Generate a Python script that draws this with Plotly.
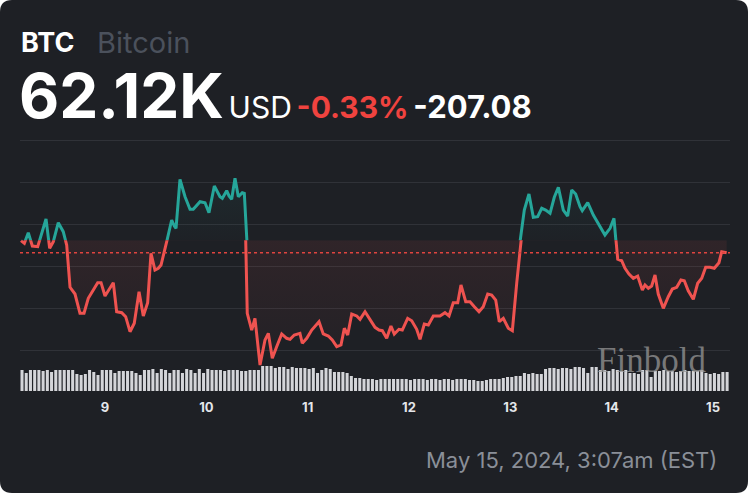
import plotly.graph_objects as go

# ---------------- data ----------------
# x = day of May 2024 (fractional), price in thousands of USD
price_day = [8.171, 8.204, 8.243, 8.283, 8.336, 8.368, 8.418, 8.454, 8.490, 8.539,
             8.588, 8.622, 8.655, 8.704, 8.753, 8.793, 8.835, 8.928, 8.961, 9.000,
             9.082, 9.115, 9.165, 9.204, 9.247, 9.289, 9.336, 9.378, 9.421, 9.454,
             9.493, 9.526, 9.553, 9.609, 9.658, 9.684, 9.701, 9.740, 9.790, 9.839,
             9.871, 9.938, 9.987, 10.026, 10.079, 10.135, 10.158, 10.201, 10.224, 10.250,
             10.283, 10.316, 10.355, 10.375, 10.389, 10.404, 10.448, 10.480, 10.530, 10.579,
             10.612, 10.651, 10.694, 10.744, 10.793, 10.826, 10.868, 10.924, 10.947, 10.991,
             11.040, 11.112, 11.154, 11.204, 11.243, 11.287, 11.329, 11.362, 11.395, 11.435,
             11.484, 11.517, 11.566, 11.615, 11.665, 11.704, 11.737, 11.780, 11.822, 11.855,
             11.901, 11.934, 11.987, 12.027, 12.076, 12.109, 12.151, 12.191, 12.240, 12.306,
             12.355, 12.395, 12.437, 12.481, 12.513, 12.560, 12.602, 12.645, 12.691, 12.733,
             12.777, 12.816, 12.856, 12.891, 12.931, 12.980, 13.020, 13.063, 13.096, 13.138,
             13.184, 13.227, 13.270, 13.310, 13.349, 13.392, 13.434, 13.474, 13.523, 13.566,
             13.606, 13.645, 13.688, 13.710, 13.764, 13.819, 13.885, 13.934, 13.984, 14.023,
             14.043, 14.060, 14.099, 14.132, 14.171, 14.214, 14.257, 14.303, 14.329, 14.362,
             14.395, 14.428, 14.460, 14.510, 14.559, 14.599, 14.642, 14.684, 14.717, 14.756,
             14.806, 14.849, 14.889, 14.928, 14.971, 15.013, 15.059, 15.086, 15.135]

price_k = [62.322, 62.278, 62.455, 62.233, 62.222, 62.388, 62.683, 62.195, 62.305, 62.622,
           62.472, 62.250, 61.545, 61.433, 61.112, 61.112, 61.362, 61.622, 61.622, 61.400,
           61.622, 61.138, 61.122, 61.055, 60.805, 60.945, 61.472, 61.067, 61.288, 62.112,
           61.833, 61.862, 61.917, 62.305, 62.667, 62.567, 62.528, 63.345, 63.055, 62.845,
           62.845, 62.972, 62.955, 62.788, 63.233, 63.055, 63.028, 63.155, 63.067, 63.012,
           63.362, 63.055, 63.122, 63.112, 62.305, 61.112, 60.833, 61.028, 60.250, 60.667,
           60.778, 60.362, 60.555, 60.767, 60.695, 60.678, 60.750, 60.778, 60.612, 60.695,
           60.833, 60.972, 60.767, 60.733, 60.667, 60.555, 60.583, 60.862, 60.750, 61.100,
           61.067, 61.012, 61.138, 61.000, 60.878, 60.833, 60.822, 60.695, 60.900, 60.767,
           60.845, 60.833, 61.028, 60.988, 60.845, 60.678, 60.933, 60.917, 61.067, 61.067,
           61.122, 61.067, 61.288, 61.288, 61.583, 61.305, 61.305, 61.222, 61.138, 61.222,
           61.433, 61.417, 61.333, 60.972, 61.028, 60.862, 60.822, 61.612, 62.305, 62.833,
           63.100, 62.712, 62.722, 62.862, 62.833, 62.778, 63.045, 63.212, 62.833, 62.733,
           63.167, 63.100, 62.888, 62.822, 62.955, 62.750, 62.555, 62.417, 62.528, 62.695,
           62.305, 62.012, 61.988, 61.862, 61.767, 61.695, 61.733, 61.500, 61.583, 61.528,
           61.567, 61.750, 61.433, 61.195, 61.388, 61.517, 61.545, 61.667, 61.655, 61.488,
           61.345, 61.612, 61.695, 61.878, 61.878, 61.862, 61.955, 62.138, 62.120]

# hourly volume (relative units), first bar at May 8 ~04:20
volume = [21, 18, 21, 21, 21, 20, 21, 19, 21, 21, 21, 21, 21, 17, 16, 17, 21, 19, 16, 21,
          21, 21, 18, 20, 20, 20, 20, 18, 16, 21, 21, 22, 18, 22, 21, 18, 21, 21, 18, 22, 21, 18, 22, 18,
          22, 21, 21, 21, 20, 21, 21, 21, 20, 20, 21, 21, 21,
          25, 25, 25, 23, 24, 24, 22, 24, 23, 23,
          23, 22, 23, 18, 21, 23, 22, 19, 19, 19, 18, 15, 13, 13,
          12, 12, 12, 11, 12, 12, 12, 12, 12, 12, 12, 11, 12, 12, 12, 11, 12, 12, 11, 12, 12, 11, 12, 12, 12, 11,
          11, 10, 10, 11, 12, 12, 12, 13, 14, 14, 15, 15, 18, 17, 18, 17, 17,
          22, 23, 23, 22, 23, 23, 22, 24, 24, 23, 18, 24, 24, 21, 21, 20, 22, 21, 20, 21,
          18, 18, 17, 21, 21, 14, 20, 20, 21, 20, 20, 19, 20, 21, 20, 20, 20, 21, 18, 17, 18, 17, 19, 19]
volume_start_day = 8.181
volume_day = [volume_start_day + h / 24 for h in range(len(volume))]

x_ticks = [9, 10, 11, 12, 13, 14, 15]
x_tick_labels = ["9", "10", "11", "12", "13", "14", "15"]
grid_vals = [60.5, 61.2, 61.9, 62.6, 63.3, 64.0]

prev_close_k = 62.33
last_price_k = 62.12
change_pct = "-0.33%"
change_abs = "-207.08"

# ---------------- layout helpers ----------------
W, H = 750, 496
def px(x):
    return x / W
def py(y):
    return 1 - y / H

BG = "#1e2025"
GREEN = "#26a69a"
RED = "#ef5350"
FONT = "Inter"

# main price axis geometry (pixels)
TOP_PX, BOT_PX = 130, 392
Y_LO, Y_HI = 59.8, 64.1667
thr_px = TOP_PX + (Y_HI - prev_close_k) / (Y_HI - Y_LO) * (BOT_PX - TOP_PX)
X_RANGE = [8.1612, 15.168]

fig = go.Figure()

# invisible trace to hold main subplot (gridlines)
fig.add_trace(go.Scatter(x=price_day, y=price_k, mode="none", hoverinfo="skip",
                         showlegend=False, xaxis="x", yaxis="y"))

# volume bars
fig.add_trace(go.Bar(x=volume_day, y=volume, width=0.72 / 24, marker_color="#d4d5d9",
                     marker_line_width=0, showlegend=False, xaxis="x", yaxis="y2"))

# green part (above previous close)
base = [prev_close_k] * len(price_day)
fig.add_trace(go.Scatter(x=price_day, y=base, mode="lines", line=dict(width=0),
                         showlegend=False, hoverinfo="skip", xaxis="x", yaxis="y3"))
fig.add_trace(go.Scatter(x=price_day, y=price_k, mode="lines",
                         line=dict(color=GREEN, width=3), fill="tonexty",
                         fillgradient=dict(type="vertical",
                                           colorscale=[[0, "rgba(38,166,154,0.01)"],
                                                       [1, "rgba(38,166,154,0.08)"]],
                                           start=prev_close_k, stop=63.4),
                         showlegend=False, xaxis="x", yaxis="y3"))

# red part (below previous close)
fig.add_trace(go.Scatter(x=price_day, y=base, mode="lines", line=dict(width=0),
                         showlegend=False, hoverinfo="skip", xaxis="x", yaxis="y4"))
fig.add_trace(go.Scatter(x=price_day, y=price_k, mode="lines",
                         line=dict(color=RED, width=3), fill="tonexty",
                         fillgradient=dict(type="vertical",
                                           colorscale=[[0, "rgba(239,83,80,0.02)"],
                                                       [1, "rgba(239,83,80,0.085)"]],
                                           start=60.25, stop=prev_close_k),
                         showlegend=False, xaxis="x", yaxis="y4"))

hidden = dict(visible=False, showgrid=False, zeroline=False, fixedrange=True)

fig.update_layout(
    width=W, height=H,
    margin=dict(l=0, r=0, t=0, b=0),
    paper_bgcolor="white",
    plot_bgcolor="rgba(0,0,0,0)",
    showlegend=False,
    xaxis=dict(domain=[px(20), px(730)], range=X_RANGE, anchor="y",
               tickvals=x_ticks, ticktext=x_tick_labels, showgrid=False,
               zeroline=False, showline=False, ticks="outside", ticklen=3,
               tickcolor="rgba(0,0,0,0)",
               tickfont=dict(family=FONT, size=13, color="#e4e6ea", weight="bold")),
    yaxis=dict(domain=[py(BOT_PX), py(TOP_PX)], range=[Y_LO, Y_HI],
               tickvals=grid_vals, showticklabels=False, showgrid=True,
               gridcolor="#303238", gridwidth=1, zeroline=False, showline=False),
    yaxis2=dict(domain=[py(391), py(300)], range=[0, 91], anchor="x", **hidden),
    yaxis3=dict(domain=[py(thr_px), py(TOP_PX)], range=[prev_close_k, Y_HI], anchor="x", **hidden),
    yaxis4=dict(domain=[py(BOT_PX), py(thr_px)], range=[Y_LO, prev_close_k], anchor="x", **hidden),
)

# rounded card background
r = 12
x0, x1, y0, y1 = 0, 748, 0, 493
path = (f"M {px(x0 + r)},{py(y0)} L {px(x1 - r)},{py(y0)} Q {px(x1)},{py(y0)} {px(x1)},{py(y0 + r)} "
        f"L {px(x1)},{py(y1 - r)} Q {px(x1)},{py(y1)} {px(x1 - r)},{py(y1)} "
        f"L {px(x0 + r)},{py(y1)} Q {px(x0)},{py(y1)} {px(x0)},{py(y1 - r)} "
        f"L {px(x0)},{py(y0 + r)} Q {px(x0)},{py(y0)} {px(x0 + r)},{py(y0)} Z")
fig.add_shape(type="path", path=path, xref="paper", yref="paper",
              fillcolor=BG, line=dict(width=0), layer="below")

# current price dotted line
fig.add_shape(type="line", xref="paper", yref="y", x0=px(20), x1=px(730),
              y0=last_price_k, y1=last_price_k,
              line=dict(color="#e0443f", width=1.5, dash="dot"))

# header texts
fig.add_annotation(x=px(19), y=py(42), xref="paper", yref="paper", xanchor="left", yanchor="middle",
                   text="<b>BTC</b>", showarrow=False,
                   font=dict(family=FONT, size=27, color="white"))
fig.add_annotation(x=px(95), y=py(42), xref="paper", yref="paper", xanchor="left", yanchor="middle",
                   text="Bitcoin", showarrow=False,
                   font=dict(family=FONT, size=29, color="#4b515c"))
sp = "<span style='font-size:17px'> </span>"
big = (f"<b>{last_price_k:.2f}K</b>{sp}<span style='font-size:30px'>USD</span>{sp}"
       f"<span style='font-size:30px;color:#f0433f'><b>{change_pct}</b></span>{sp}"
       f"<span style='font-size:31px'><b>{change_abs}</b></span>")
fig.add_annotation(x=px(17), y=py(95), xref="paper", yref="paper", xanchor="left", yanchor="middle",
                   text=big, showarrow=False,
                   font=dict(family=FONT, size=62, color="white"))

# footer timestamp
fig.add_annotation(x=px(719), y=py(460), xref="paper", yref="paper", xanchor="right", yanchor="middle",
                   text="May 15, 2024, 3:07am (EST)", showarrow=False,
                   font=dict(family=FONT, size=22, color="#8a8f98"))

# watermark
fig.add_annotation(x=px(651), y=py(360), xref="paper", yref="paper", xanchor="center", yanchor="middle",
                   text="Finbold", showarrow=False,
                   font=dict(family="Liberation Serif", size=35, color="rgba(150,150,150,0.75)"))

fig.write_html("out.html", post_script="document.body.style.margin='0';",
               config={"displayModeBar": False})
